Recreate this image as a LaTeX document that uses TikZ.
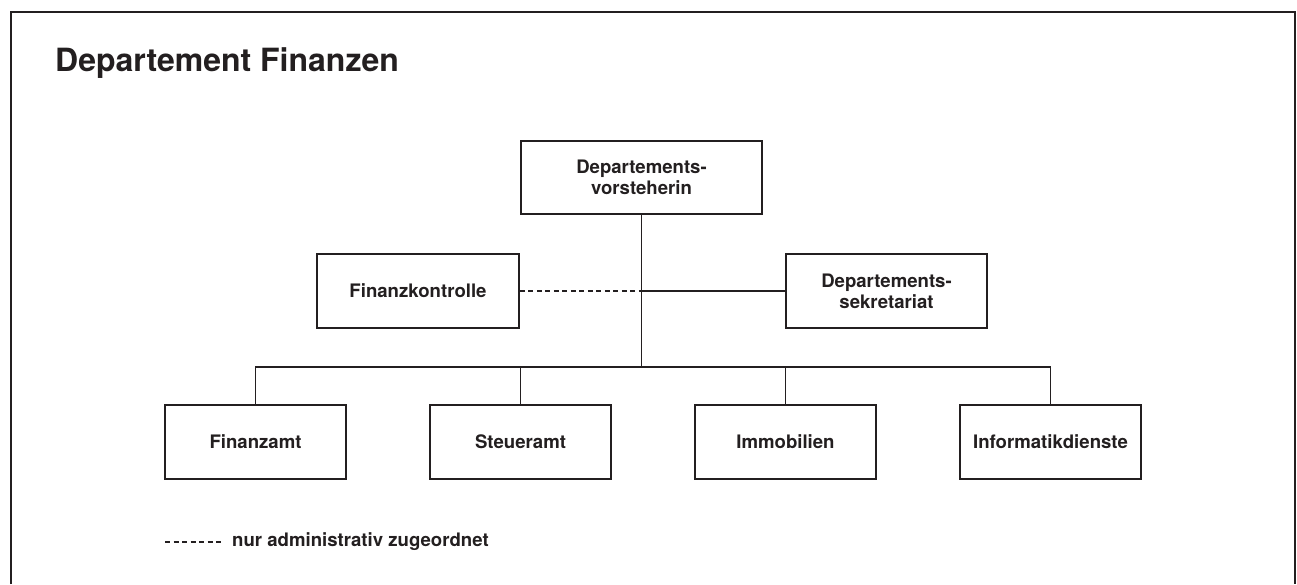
\documentclass[tikz,border=0pt]{standalone}
\usepackage{fontspec}
\setmainfont{TeX Gyre Heros}
\usetikzlibrary{positioning}
\definecolor{ink}{HTML}{231F20}

\begin{document}
\begin{tikzpicture}[x=1pt,y=1pt,
  unit/.style={draw=ink,line width=1.6pt,minimum width=#1,minimum height=74pt,
    inner sep=0pt,align=center,text=ink,font=\bfseries\fontsize{18.6}{21}\selectfont},
  unit/.default=181pt,
  line/.style={draw=ink,line width=1.6pt},
  admin/.style={line,dash pattern=on 5pt off 3.5pt}]
  \useasboundingbox (0,0) rectangle (1297,584);
  \draw[ink,line width=2pt] (11,0) -- (11,572) -- (1295,572) -- (1295,0); %

  \node[anchor=base west,inner sep=0pt,text=ink,font=\bfseries\fontsize{32}{36}\selectfont] (title) at (55,512) {Departement Finanzen};

  \node[unit=241pt,minimum height=73pt] (dvs) at (641.5,406.5) {Departements-\\vorsteherin};
  \node[unit=202pt] (fk) at (418,293) {Finanzkontrolle};
  \node[unit=201pt] (dsk) at (886.5,293) {Departements-\\sekretariat};

  \node[unit] (fa) at (255.5,142) {Finanzamt};
  \node[unit] (sta) at (520.5,142) {Steueramt};
  \node[unit] (imm) at (785.5,142) {Immobilien};
  \node[unit] (inf) at (1050.5,142) {Informatikdienste};

  \coordinate (bus) at (641.5,217);
  \coordinate (mid) at (dvs.south |- fk.east);

  \draw[line] (dvs.south) -- (bus);
  \draw[line] (fa.north) |- (bus) -| (inf.north);
  \draw[line] (sta.north) -- (sta.north |- bus);
  \draw[line] (imm.north) -- (imm.north |- bus);
  \draw[line] (dsk.west) -- (mid);
  \draw[admin] (fk.east) -- (mid);

  % legend
  \coordinate (lga) at (165,42);
  \coordinate (lgb) at (222,42);
  \draw[admin,line width=1.3pt] (lga) -- (lgb);
  \node[right=10pt of lgb,inner sep=0pt,text=ink,font=\bfseries\fontsize{18.6}{21}\selectfont] (legend) {nur administrativ zugeordnet};
\end{tikzpicture}
\end{document}
